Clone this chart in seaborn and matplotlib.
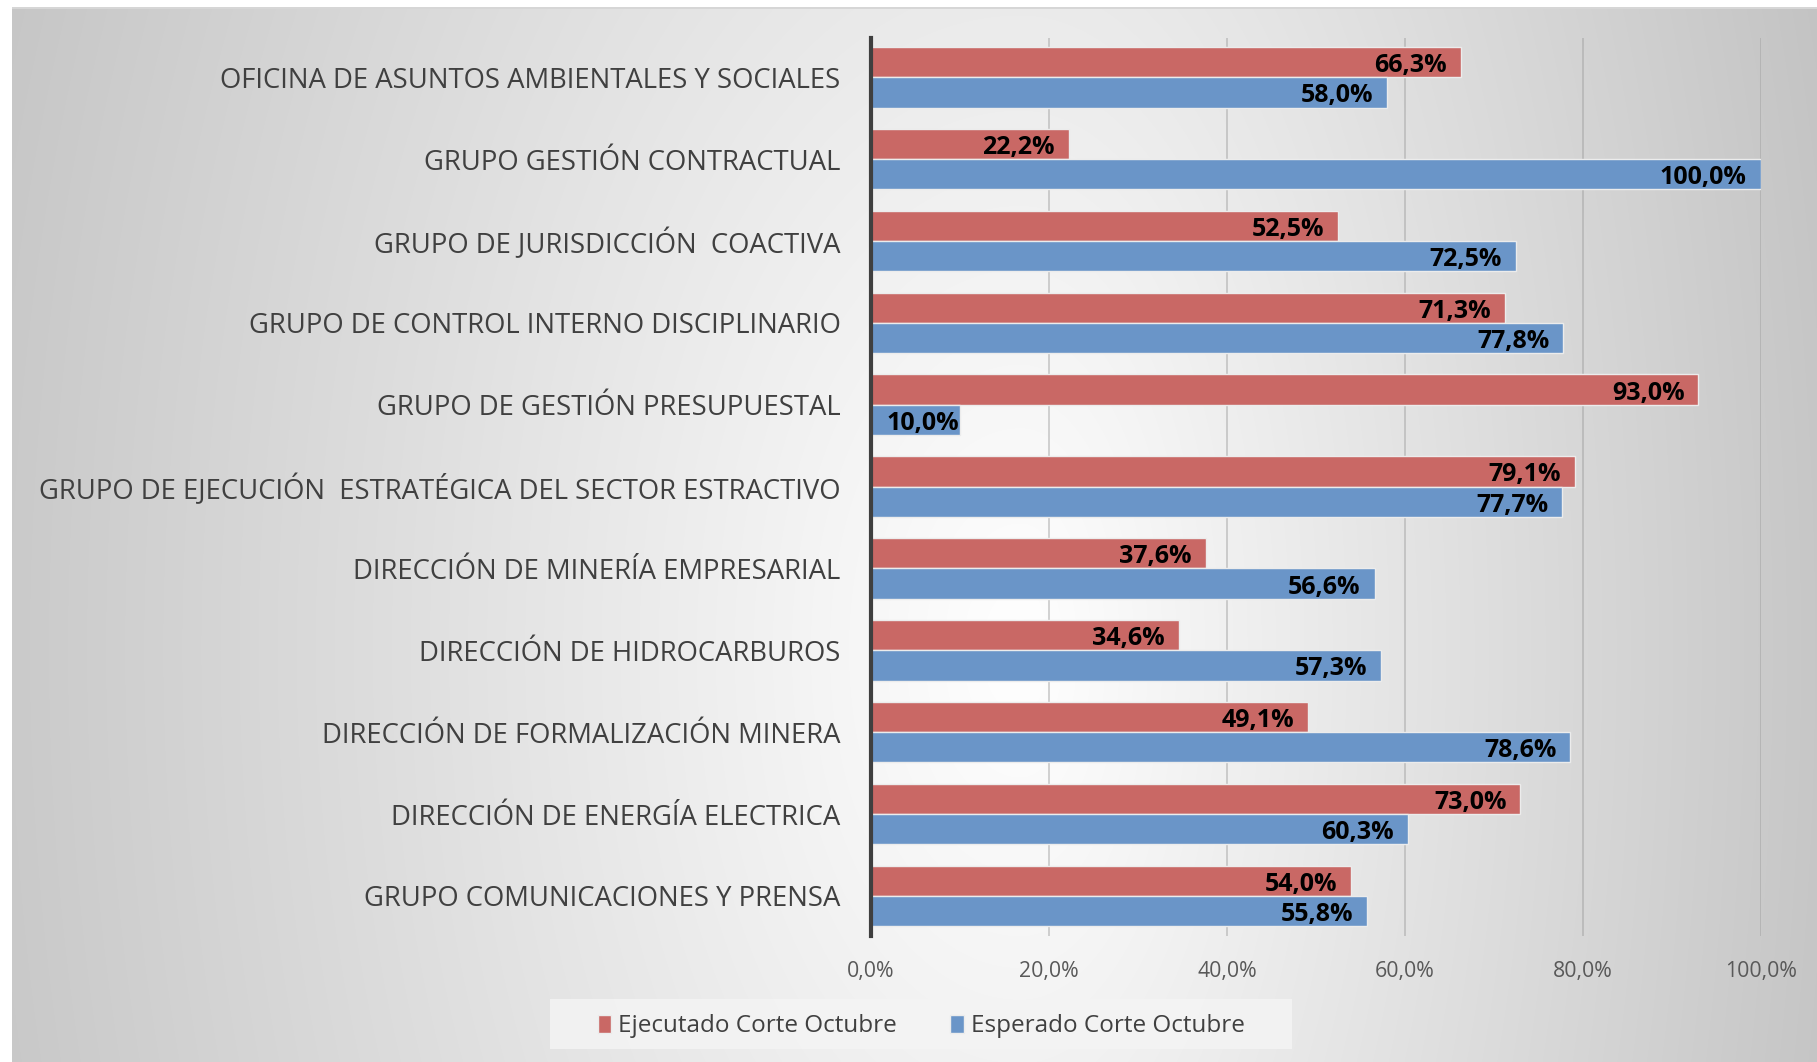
import matplotlib
matplotlib.use("Agg")
import matplotlib.pyplot as plt
from matplotlib.patches import Patch, Rectangle
import seaborn as sns
import numpy as np
import pandas as pd

# ─────────────────────────────────────────────
# DATA
# ─────────────────────────────────────────────
AREAS = [
    "OFICINA DE ASUNTOS AMBIENTALES Y SOCIALES",
    "GRUPO GESTIÓN CONTRACTUAL",
    "GRUPO DE JURISDICCIÓN  COACTIVA",
    "GRUPO DE CONTROL INTERNO DISCIPLINARIO",
    "GRUPO DE GESTIÓN PRESUPUESTAL",
    "GRUPO DE EJECUCIÓN  ESTRATÉGICA DEL SECTOR ESTRACTIVO",
    "DIRECCIÓN DE MINERÍA EMPRESARIAL",
    "DIRECCIÓN DE HIDROCARBUROS",
    "DIRECCIÓN DE FORMALIZACIÓN MINERA",
    "DIRECCIÓN DE ENERGÍA ELECTRICA",
    "GRUPO COMUNICACIONES Y PRENSA",
]
EJECUTADO = [66.3, 22.2, 52.5, 71.3, 93.0, 79.1, 37.6, 34.6, 49.1, 73.0, 54.0]
ESPERADO = [58.0, 100.0, 72.5, 77.8, 10.0, 77.7, 56.6, 57.3, 78.6, 60.3, 55.8]
SERIES = ["Ejecutado Corte Octubre", "Esperado Corte Octubre"]
X_TICKS = [0, 20, 40, 60, 80, 100]

COLORS = ["#C96865", "#6A95C8"]


def pct(v):
    return f"{v:.1f}".replace(".", ",") + "%"


df = pd.DataFrame({
    "area": AREAS + AREAS,
    "valor": EJECUTADO + ESPERADO,
    "serie": [SERIES[0]] * len(AREAS) + [SERIES[1]] * len(AREAS),
})

# ─────────────────────────────────────────────
# FIGURE
# ─────────────────────────────────────────────
sns.set_style("white")
plt.rcParams["font.family"] = ["Open Sans", "DejaVu Sans"]

W, H = 1817, 1062
fig = plt.figure(figsize=(W / 100, H / 100), dpi=100)

# grey gradient background (light centre, darker edges)
bg = fig.add_axes([0, 0, 1, 1], zorder=-10)
yy, xx = np.mgrid[0:H, 0:W]
dx = xx - 1020.0
ax_scale = np.where(dx < 0, 1020.0, 760.0)
r = np.sqrt((dx / ax_scale) ** 2 + ((yy - 650.0) / 1700.0) ** 2)
g = np.clip(1.0 - 0.21 * r, 0.76, 1.0)
img = np.dstack([g, g, g])
img[:7, :] = 1.0
img[7:9, 12:] = 0.84
img[:, :12] = 1.0
bg.imshow(img, aspect="auto", interpolation="bilinear")
bg.axis("off")

# light panel behind the legend
fig.patches.append(Rectangle((0.3027, 0.0122), 0.4084, 0.047,
                             transform=fig.transFigure, facecolor="#f4f4f4",
                             alpha=0.85, edgecolor="none", zorder=-5))

ax = fig.add_axes([0.4794, 0.1186, 0.969 - 0.4794, 0.9642 - 0.1186])
ax.set_facecolor("none")

sns.barplot(
    data=df, x="valor", y="area", hue="serie", orient="h",
    palette=COLORS, width=0.74, edgecolor="#ececec", linewidth=1,
    saturation=1, legend=False, ax=ax,
)

# value labels at the inner end of every bar
for cont in ax.containers:
    for b in cont:
        v = b.get_width()
        pad = -10 if v > 15 else -1
        ax.annotate(
            pct(v), (v, b.get_y() + b.get_height() / 2),
            xytext=(pad, -2.5), textcoords="offset points",
            ha="right", va="center", fontsize=18, fontweight="bold",
            color="black",
        )

ax.set_xlim(0, 100)
ax.set_ylim(10.49, -0.48)
ax.set_xticks(X_TICKS)
ax.set_xticklabels([pct(t) for t in X_TICKS])
ax.set_xlabel("")
ax.set_ylabel("")

ax.xaxis.grid(True, color="#9a9a9a", alpha=0.5, linewidth=1.2)
ax.yaxis.grid(False)
ax.set_axisbelow(True)

for s in ["top", "right", "bottom"]:
    ax.spines[s].set_visible(False)
ax.spines["left"].set_color("#3f3f3f")
ax.spines["left"].set_linewidth(3)

ax.tick_params(axis="x", length=0, pad=18, labelsize=15.3, labelcolor="#595959")
ax.tick_params(axis="y", length=0, pad=22, labelsize=19.8, labelcolor="#404040")

handles = [Patch(facecolor=c, edgecolor="#ececec") for c in COLORS]
leg = ax.legend(
    handles, SERIES, loc="center", bbox_to_anchor=(0.507, 0.0335),
    bbox_transform=fig.transFigure, ncol=2, frameon=False,
    fontsize=17.5, handlelength=0.55, handleheight=0.75, handletextpad=0.3,
    columnspacing=2.2, borderpad=0.5, borderaxespad=0,
)
for t in leg.get_texts():
    t.set_color("#404040")

fig.savefig("out.png", dpi=100)
